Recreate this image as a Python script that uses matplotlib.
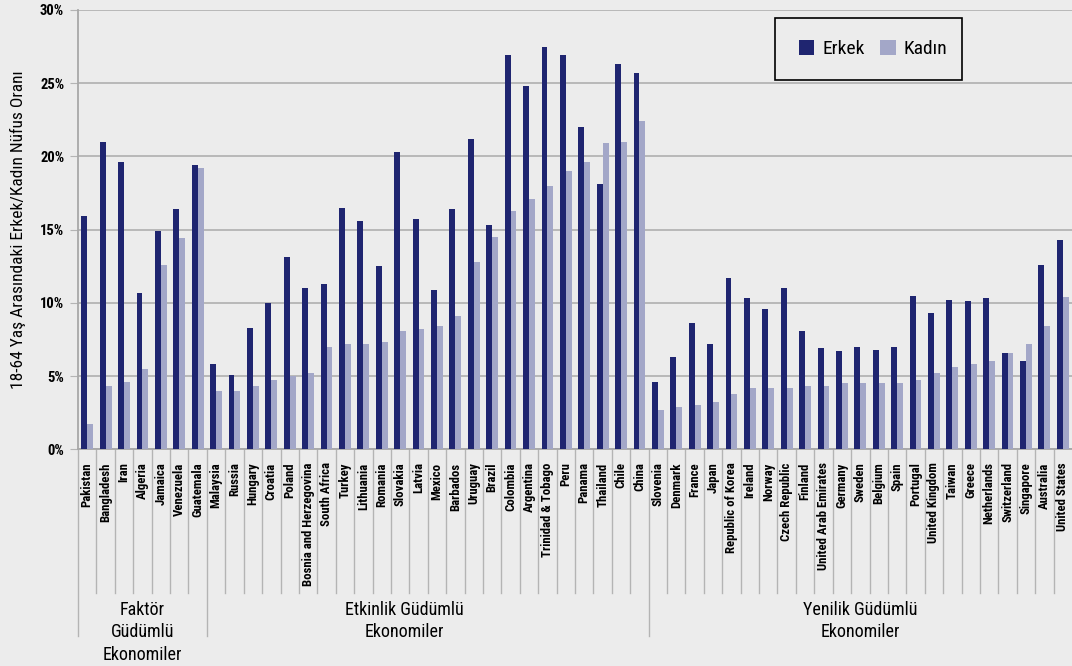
import numpy as np
import matplotlib.pyplot as plt
from matplotlib.patches import Rectangle
from matplotlib.transforms import blended_transform_factory

plt.rcParams['font.family'] = ['Roboto Condensed', 'Liberation Sans Narrow', 'Roboto', 'DejaVu Sans']

# data (percent)
countries = ["Pakistan", "Bangladesh", "Iran", "Algeria", "Jamaica", "Venezuela", "Guatemala",
             "Malaysia", "Russia", "Hungary", "Croatia", "Poland", "Bosnia and Herzegovina",
             "South Africa", "Turkey", "Lithuania", "Romania", "Slovakia", "Latvia", "Mexico",
             "Barbados", "Uruguay", "Brazil", "Colombia", "Argentina", "Trinidad & Tobago", "Peru",
             "Panama", "Thailand", "Chile", "China",
             "Slovenia", "Denmark", "France", "Japan", "Republic of Korea", "Ireland", "Norway",
             "Czech Republic", "Finland", "United Arab Emirates", "Germany", "Sweden", "Belgium",
             "Spain", "Portugal", "United Kingdom", "Taiwan", "Greece", "Netherlands",
             "Switzerland", "Singapore", "Australia", "United States"]
erkek = [15.9, 21.0, 19.6, 10.7, 14.9, 16.4, 19.4,
         5.8, 5.1, 8.3, 10.0, 13.1, 11.0, 11.3, 16.5, 15.6, 12.5, 20.3, 15.7, 10.9,
         16.4, 21.2, 15.3, 26.9, 24.8, 27.5, 26.9, 22.0, 18.1, 26.3, 25.7,
         4.6, 6.3, 8.6, 7.2, 11.7, 10.3, 9.6, 11.0, 8.1, 6.9, 6.7, 7.0, 6.8,
         7.0, 10.5, 9.3, 10.2, 10.1, 10.3, 6.6, 6.0, 12.6, 14.3]
kadin = [1.7, 4.3, 4.6, 5.5, 12.6, 14.4, 19.2,
         4.0, 4.0, 4.3, 4.7, 5.0, 5.2, 7.0, 7.2, 7.2, 7.3, 8.1, 8.2, 8.4,
         9.1, 12.8, 14.5, 16.3, 17.1, 18.0, 19.0, 19.6, 20.9, 21.0, 22.4,
         2.7, 2.9, 3.0, 3.2, 3.8, 4.2, 4.2, 4.2, 4.3, 4.3, 4.5, 4.5, 4.5,
         4.5, 4.7, 5.2, 5.6, 5.8, 6.0, 6.6, 7.2, 8.4, 10.4]
group_sizes = [7, 24, 23]
group_names = ["Faktör\nGüdümlü\nEkonomiler", "Etkinlik Güdümlü\nEkonomiler", "Yenilik Güdümlü\nEkonomiler"]

bg = '#ececec'
dark = '#1f2570'
light = '#a3a7c8'

fig = plt.figure(figsize=(10.72, 6.66), dpi=100, facecolor=bg)
ax = fig.add_axes([0.0728, 0.3254, 0.9272, 0.6596], facecolor=bg)

x = np.arange(len(countries))
w = 0.32
ax.bar(x - w/2, erkek, w, color=dark, label='Erkek', zorder=3)
ax.bar(x + w/2, kadin, w, color=light, label='Kadın', zorder=3)

ax.set_xlim(-0.5, len(countries) - 0.5)
ax.set_ylim(0, 30)
ax.set_yticks(np.arange(0, 31, 5))
ax.set_yticklabels([f"{v}%" for v in range(0, 31, 5)], fontweight='bold', fontsize=10.5)
ax.yaxis.grid(True, color='#b4b4b4', linewidth=1.3, zorder=0)
ax.tick_params(axis='y', length=6, color='#b4b4b4', pad=4)
ax.set_ylabel("18-64 Yaş Arasındaki Erkek/Kadın Nüfus Oranı", fontsize=12.5, labelpad=10)

for s in ['top', 'right']:
    ax.spines[s].set_visible(False)
ax.spines['left'].set_color('#a8a8a8')
ax.spines['left'].set_linewidth(1.3)
ax.spines['bottom'].set_color('#a8a8a8')
ax.spines['bottom'].set_linewidth(1.3)

ax.set_xticks([])
tr = blended_transform_factory(ax.transData, ax.transAxes)
for i, c in enumerate(countries):
    ax.text(i, -0.03, c, transform=tr, rotation=90, ha='center', va='top',
            fontsize=9.2, fontweight='bold')

# category separators and group separators
bounds = np.cumsum([0] + group_sizes) - 0.5
for b in np.arange(0.5, len(countries) - 1, 1):
    if b in bounds:
        continue
    ax.plot([b, b], [0, -0.327], transform=tr, color='#b4b4b4', lw=1, clip_on=False)
for b in bounds[:-1]:
    ax.plot([b, b], [0, -0.425], transform=tr, color='#b4b4b4', lw=1, clip_on=False)

centers = [(bounds[0] + bounds[1]) / 2, 17.25, (bounds[2] + bounds[3]) / 2]
for cx, name in zip(centers, group_names):
    ax.text(cx, -0.345, name, transform=tr, ha='center', va='top', fontsize=13, linespacing=1.32)

# legend box
fig.patches.append(Rectangle((775/1072, 1 - 80/666), 187/1072, 62/666, transform=fig.transFigure,
                             facecolor=bg, edgecolor='black', lw=1.2, zorder=5))
leg = fig.legend(loc='center', bbox_to_anchor=(873/1072, 1 - 49/666), ncol=2, frameon=False,
                 fontsize=14, handlelength=0.8, handleheight=0.8, handletextpad=0.4, columnspacing=0.8)
leg.set_zorder(6)

fig.savefig('out.png', dpi=100, facecolor=bg)
